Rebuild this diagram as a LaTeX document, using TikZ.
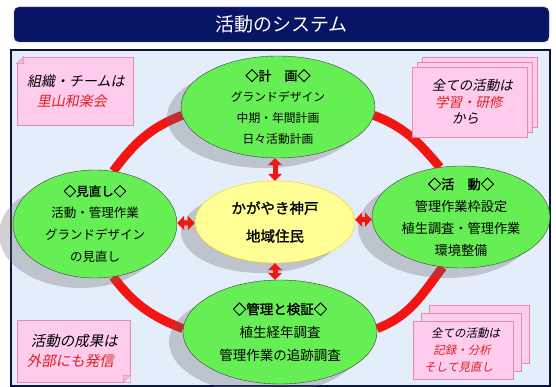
\documentclass[tikz,border=0pt]{standalone}
\usepackage{fontspec}
\newfontfamily\jpfont{Noto Sans CJK JP}
\newfontfamily\jpbold[FakeBold=1.5]{Noto Sans CJK JP}
\usetikzlibrary{shapes.geometric, arrows.meta, shadows}

\definecolor{navy}{RGB}{8,20,100}
\definecolor{navyedge}{RGB}{70,100,180}
\definecolor{boardblue}{RGB}{228,238,250}
\definecolor{boardedge}{RGB}{10,20,60}
\definecolor{leaf}{RGB}{102,238,85}
\definecolor{hubyellow}{RGB}{255,255,150}
\definecolor{memopink}{RGB}{255,204,238}
\definecolor{memoedge}{RGB}{230,140,170}
\definecolor{alert}{RGB}{225,30,30}
\definecolor{ringred}{RGB}{245,20,20}

\pgfdeclarelayer{board}
\pgfdeclarelayer{ring}
\pgfsetlayers{board,ring,main}

\newcommand{\phasehead}[1]{{\jpbold #1}}

\tikzset{
    % ellipses of the cycle and the hub in the middle
    phase/.style = {ellipse, draw=black!75, thin, fill=leaf, inner xsep=0pt, inner ysep=-10pt, align=center,
        drop shadow={shadow xshift=-14pt, shadow yshift=-10pt, fill=black!60, opacity=0.3}},
    hubnode/.style = {ellipse, draw=yellow!60!orange, thin, fill=hubyellow, inner sep=0pt, align=center,
        font=\jpbold\fontsize{14.5}{28}\selectfont,
        drop shadow={shadow xshift=-14pt, shadow yshift=-10pt, fill=black!60, opacity=0.3}},
    memo/.style = {rectangle, draw=memoedge, line width=0.8pt, fill=memopink, inner sep=0pt, align=center},
    memotext/.style = {xslant=0.2, align=center, inner sep=0pt},
    stack/.style = {general shadow={shadow xshift=2*#1, shadow yshift=2*#1, fill=memopink, draw=memoedge, line width=0.8pt},
        general shadow={shadow xshift=#1, shadow yshift=#1, fill=memopink, draw=memoedge, line width=0.8pt}},
    ringarc/.style = {draw=ringred, line width=9pt},
    dbl/.style = {draw=ringred, line width=5pt, {Triangle[length=7pt,width=14pt]}-{Triangle[length=7pt,width=14pt]}},
    titlebar/.style = {rectangle, rounded corners=5pt, fill=navy, draw=navyedge, thin, text=white,
        minimum width=535, minimum height=35, font=\jpfont\fontsize{19}{22}\selectfont}
}

\begin{document}
\begin{tikzpicture}[x=1pt, y=1pt]
\useasboundingbox (0,0) rectangle (556,387);

\node[titlebar] (title) at (281.5,362.5) {活動のシステム};

\begin{pgfonlayer}{board}
\node[rectangle, draw=boardedge, line width=1.5pt, fill=boardblue, minimum width=539, minimum height=336] (board) at (280.5,169) {};
\end{pgfonlayer}

% cycle
\node[phase, minimum width=194, minimum height=102, font=\jpfont\fontsize{11.8}{21}\selectfont] (plan) at (278,280)
    {\phasehead{\fontsize{13}{21}\selectfont ◇計　画◇}\\グランドデザイン\\中期・年間計画\\日々活動計画};
\node[phase, minimum width=178, minimum height=102, font=\jpfont\fontsize{13.2}{22}\selectfont] (activity) at (461,170)
    {\phasehead{◇活　動◇}\\管理作業枠設定\\植生調査・管理作業\\環境整備};
\node[phase, minimum width=194, minimum height=104, font=\jpfont\fontsize{13.5}{23}\selectfont] (check) at (280,55)
    {\phasehead{◇管理と検証◇}\\植生経年調査\\管理作業の追跡調査};
\node[phase, minimum width=164, minimum height=108, font=\jpfont\fontsize{12.5}{22}\selectfont] (review) at (95,163)
    {\phasehead{◇見直し◇}\\活動・管理作業\\グランドデザイン\\の見直し};
\node[hubnode, minimum width=160, minimum height=82] (hub) at (275,165) {かがやき神戸\\地域住民};

\begin{pgfonlayer}{ring}
\draw[ringarc] (plan.185) to[out=201, in=53] (review.71);
\draw[ringarc] (plan.355) to[out=339, in=130] (activity.113);
\draw[ringarc] (review.289) to[out=307, in=159] (check.178);
\draw[ringarc] (activity.250) to[out=233, in=21] (check.2);
\end{pgfonlayer}

\draw[dbl] (plan.south -| hub.north) -- (hub.north);
\draw[dbl] (hub.south) -- (hub.south |- check.north);
\draw[dbl] (review) -- (hub);
\draw[dbl] (hub) -- (activity);

% notes in the corners
\node[memo, minimum width=116, minimum height=68,
    label={[memotext, font=\jpfont\fontsize{14}{20}\selectfont]center:組織・チームは\\\textcolor{alert}{里山和楽会}}] (crew) at (75,296) {};
\fill[boardblue] (crew.north west) -- ++(7,0) -- ++(-7,-7) -- cycle;
\filldraw[draw=memoedge, fill=memoedge!60] (crew.north west) ++(7,0) -- ++(0,-7) -- ++(-7,0) -- cycle;

\node[memo, stack=5pt, minimum width=115, minimum height=70,
    label={[memotext, font=\jpfont\fontsize{13.5}{16.5}\selectfont]center:全ての活動は\\\textcolor{alert}{学習・研修}\\から}] (study) at (470,285) {};

\node[memo, minimum width=113, minimum height=62,
    label={[memotext, font=\jpfont\fontsize{14.5}{20}\selectfont]center:活動の成果は\\\textcolor{alert}{外部にも発信}}] (outreach) at (73.5,36) {};
\fill[boardblue] (outreach.south east) -- ++(-7,0) -- ++(7,7) -- cycle;
\filldraw[draw=memoedge, fill=memoedge!60] (outreach.south east) ++(-7,0) -- ++(0,7) -- ++(7,0) -- cycle;

\node[memo, stack=8pt, minimum width=100, minimum height=58,
    label={[memotext, font=\jpfont\fontsize{11.5}{17}\selectfont]center:全ての活動は\\\textcolor{alert}{記録・分析}\\\textcolor{alert}{そして見直し}}] (record) at (463,37) {};

\end{tikzpicture}
\end{document}
